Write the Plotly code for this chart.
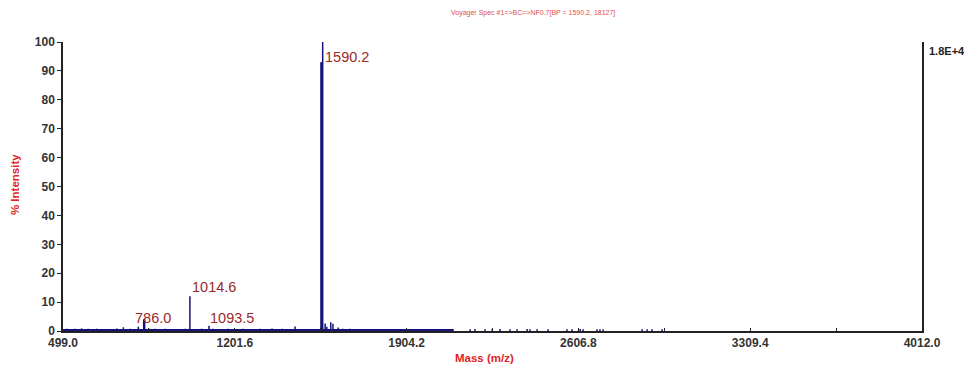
import plotly.graph_objects as go

# ---- data ----
peak_mz = [514, 535, 548, 575, 589, 602, 623, 637, 657, 719, 746, 773, 807, 829, 833,
           855, 875, 916, 964, 998, 1018, 1066, 1096, 1112, 1174, 1235, 1305, 1354, 1395,
           1448, 1554, 1557, 1561, 1571, 1578, 1594, 1603, 1624, 1644, 1673, 1714, 1742,
           2094, 2164, 2184, 2225, 2254, 2286, 2327, 2356, 2397, 2409, 2438, 2483, 2560,
           2581, 2614, 2626, 2683, 2695, 2708, 2867, 2888, 2908, 2949]
peak_int = [0.8, 0.7, 0.8, 0.9, 0.7, 0.8, 0.7, 0.8, 0.7, 0.9, 1.3, 0.8, 1.5, 4.0, 4.2,
            0.8, 0.8, 0.8, 0.7, 0.8, 12.0, 0.8, 1.8, 0.8, 0.8, 0.8, 0.8, 0.9, 0.8,
            1.6, 93.0, 93.0, 100.0, 2.6, 1.5, 3.0, 2.5, 1.2, 0.8, 0.8, 0.7, 0.7,
            0.7, 0.6, 0.7, 0.6, 0.6, 0.7, 0.6, 0.6, 0.7, 0.6, 0.6, 0.6, 0.6,
            0.6, 0.7, 0.6, 0.6, 0.6, 0.6, 0.6, 0.6, 0.6, 0.6]

baseline_mz = [499, 2094]
baseline_level = 0.3

label_text = ["786.0", "1014.6", "1093.5", "1590.2"]
label_mz = [784, 1018, 1092, 1563]
label_int = [4.6, 15.3, 4.6, 94.8]

x_ticks = [499.0, 1201.6, 1904.2, 2606.8, 3309.4, 4012.0]
x_minor = [850.3, 1552.9, 2255.5, 2958.1, 3660.7]
y_ticks = [0, 10, 20, 30, 40, 50, 60, 70, 80, 90, 100]

title_text = "Voyager Spec #1=>BC=>NF0.7[BP = 1590.2, 18127]"
scale_text = "1.8E+4"
x_title = "Mass (m/z)"
y_title = "% Intensity"

# ---- build figure ----
NAVY = "#141478"
xs, ys = [], []
for m, h in zip(peak_mz, peak_int):
    xs += [m, m, None]
    ys += [0, h, None]

fig = go.Figure()
fig.add_trace(go.Scatter(x=baseline_mz, y=[baseline_level] * len(baseline_mz),
                         mode="lines", line=dict(color=NAVY, width=2.2),
                         hoverinfo="skip", showlegend=False))
fig.add_trace(go.Scatter(x=xs, y=ys, mode="lines",
                         line=dict(color=NAVY, width=1.5),
                         showlegend=False))

for t, m, h in zip(label_text, label_mz, label_int):
    fig.add_annotation(x=m, y=h, text=t, showarrow=False, xanchor="left",
                       yanchor="middle",
                       font=dict(family="Liberation Sans, Arial", size=14.5,
                                 color="#9a2a2a"))

fig.add_annotation(x=1, y=1, xref="paper", yref="paper", text=scale_text,
                   showarrow=False, xanchor="left", yanchor="top", xshift=5,
                   yshift=-1,
                   font=dict(family="Liberation Sans, Arial", size=11,
                             color="#222222", weight="bold"))

fig.add_annotation(x=0.547, y=1, xref="paper", yref="paper", text=title_text,
                   showarrow=False, xanchor="center", yanchor="top", yshift=35,
                   font=dict(family="Liberation Sans, Arial", size=7,
                             color="#e05050"))

titlefont = dict(family="Liberation Sans, Arial", size=11.5, color="#e02424",
                 weight="bold")
fig.add_annotation(x=0.491, y=0, xref="paper", yref="paper", text=x_title,
                   showarrow=False, xanchor="center", yanchor="middle", yshift=-27,
                   font=titlefont)
fig.add_annotation(x=0, y=0.505, xref="paper", yref="paper", text=y_title,
                   showarrow=False, xanchor="center", yanchor="middle", xshift=-48,
                   textangle=-90, font=titlefont)

tickfont = dict(family="Liberation Sans, Arial", size=12, color="#333333",
                weight="bold")

fig.update_xaxes(range=[x_ticks[0], x_ticks[-1]], tickmode="array",
                 tickvals=x_ticks, ticktext=[f"{v:.1f}" for v in x_ticks],
                 ticks="inside", ticklen=3, tickcolor="#222222",
                 minor=dict(tickmode="array", tickvals=x_minor, ticks="inside",
                            ticklen=3, tickcolor="#222222"),
                 showline=True, linecolor="#222222", linewidth=1.5,
                 showgrid=False, zeroline=False, tickfont=tickfont,
                 automargin=False)
fig.update_yaxes(range=[0, 100], tickmode="array", tickvals=y_ticks,
                 ticks="outside", ticklen=4, tickcolor="#222222",
                 showline=True, mirror=True, linecolor="#222222", linewidth=1.5,
                 showgrid=False, zeroline=False, tickfont=tickfont,
                 automargin=False)

# page body has an 8px margin, so the figure is sized to fit the window
fig.update_layout(width=964, height=362,
                  margin=dict(l=55, r=50, t=34, b=39, autoexpand=False),
                  plot_bgcolor="white", paper_bgcolor="white")

fig.write_html("out.html")
